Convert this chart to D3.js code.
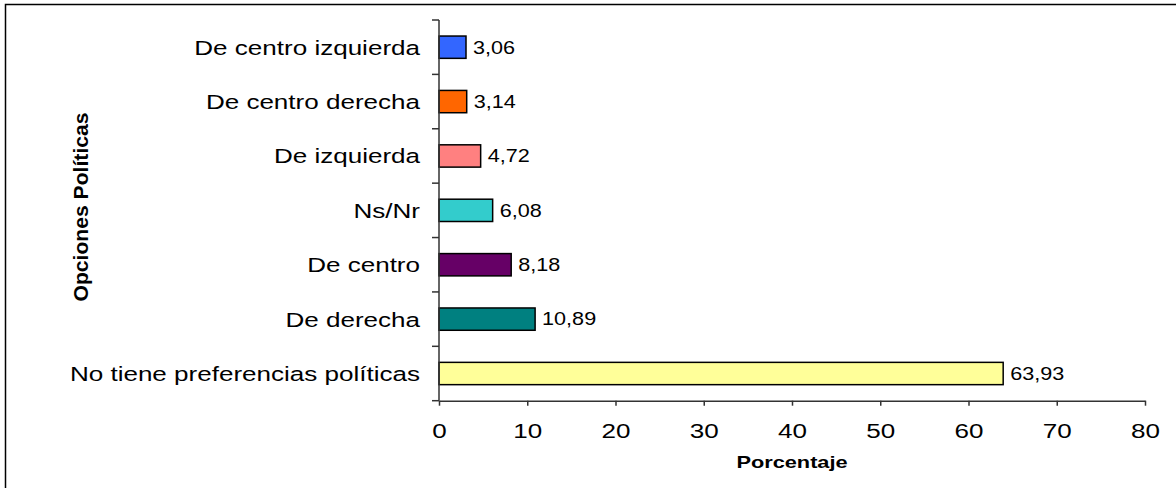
<!DOCTYPE html>
<html>
<head>
<meta charset="utf-8">
<script src="https://cdn.jsdelivr.net/npm/d3@7"></script>
<style>
  body { margin: 0; background: #fff; }
  text { font-family: "Liberation Sans", Arial, sans-serif; fill: #000; }
</style>
</head>
<body>
<div id="chart"></div>
<script>
// Categories, top to bottom as shown
const categories = [
  "De centro izquierda",
  "De centro derecha",
  "De izquierda",
  "Ns/Nr",
  "De centro",
  "De derecha",
  "No tiene preferencias políticas"
];
const values = [3.06, 3.14, 4.72, 6.08, 8.18, 10.89, 63.93];
const colors = ["#3366ff", "#ff6600", "#ff8080", "#33cccc", "#660066", "#008080", "#ffff99"];
const xTicks = [0, 10, 20, 30, 40, 50, 60, 70, 80];

const width = 1176;
const height = 488;
const margin = { top: 20, right: 31, bottom: 87.3, left: 439 };
const stretch = 1.27; // text in the picture is drawn wider than normal

const svg = d3.select("#chart")
  .append("svg")
  .attr("width", width)
  .attr("height", height);

// Frame (only top and left edges are visible)
svg.append("path")
  .attr("d", `M5.5,${height + 5}V4.5H${width + 5}`)
  .attr("fill", "none")
  .attr("stroke", "#000")
  .attr("stroke-width", 1.5);

const xScale = d3.scaleLinear()
  .domain([0, 80])
  .range([margin.left, width - margin.right]);

const yScale = d3.scaleBand()
  .domain(categories)
  .range([margin.top, height - margin.bottom])
  .paddingInner(0.59)
  .paddingOuter(0.295);

// Bars
svg.selectAll("rect.bar")
  .data(categories)
  .enter()
  .append("rect")
  .attr("class", "bar")
  .attr("x", xScale(0))
  .attr("y", (d) => yScale(d))
  .attr("width", (d, i) => xScale(values[i]) - xScale(0))
  .attr("height", yScale.bandwidth())
  .attr("fill", (d, i) => colors[i])
  .attr("stroke", "#000")
  .attr("stroke-width", 1.5);

// Value labels
svg.selectAll("text.value")
  .data(categories)
  .enter()
  .append("text")
  .attr("class", "value")
  .attr("transform", (d, i) =>
    `translate(${xScale(values[i]) + 7}, ${yScale(d) + yScale.bandwidth() / 2}) scale(1.2,1)`)
  .attr("dy", "0.35em")
  .style("font-size", "18px")
  .text((d, i) => values[i].toFixed(2).replace(".", ","));

// Category labels
svg.selectAll("text.cat")
  .data(categories)
  .enter()
  .append("text")
  .attr("class", "cat")
  .attr("transform", (d) =>
    `translate(420, ${yScale(d) + yScale.bandwidth() / 2}) scale(${stretch},1)`)
  .attr("dy", "0.36em")
  .attr("text-anchor", "end")
  .style("font-size", "20.5px")
  .text((d) => d);

// Y axis: line and ticks at band boundaries
const yTop = yScale.range()[0];
const step = yScale.step();
svg.append("line")
  .attr("x1", xScale(0)).attr("x2", xScale(0))
  .attr("y1", yTop).attr("y2", yScale.range()[1])
  .attr("stroke", "#333").attr("stroke-width", 1.5);

svg.selectAll("line.ytick")
  .data(d3.range(categories.length + 1))
  .enter()
  .append("line")
  .attr("class", "ytick")
  .attr("x1", xScale(0) - 7).attr("x2", xScale(0))
  .attr("y1", (i) => yTop + i * step)
  .attr("y2", (i) => yTop + i * step)
  .attr("stroke", "#333").attr("stroke-width", 1.5);

// X axis
const xAxis = svg.append("g")
  .attr("transform", `translate(0, ${height - margin.bottom})`)
  .call(d3.axisBottom(xScale).tickValues(xTicks).tickSize(5).tickSizeOuter(0).tickPadding(17.6));

xAxis.select(".domain").attr("stroke", "#333").attr("stroke-width", 1.5);
xAxis.selectAll(".tick line").attr("stroke", "#333").attr("stroke-width", 1.5);
xAxis.selectAll(".tick text")
  .attr("fill", "#000")
  .attr("transform", `scale(${stretch},1)`)
  .style("font-family", "'Liberation Sans', Arial, sans-serif")
  .style("font-size", "20.5px");

// Axis titles
svg.append("text")
  .attr("transform", `translate(${(xScale(0) + xScale(80)) / 2}, 468.3) scale(1.28,1)`)
  .attr("text-anchor", "middle")
  .style("font-size", "17px")
  .style("font-weight", "bold")
  .text("Porcentaje");

svg.append("text")
  .attr("transform", "translate(88, 207) rotate(-90)")
  .attr("text-anchor", "middle")
  .attr("textLength", 189)
  .attr("lengthAdjust", "spacingAndGlyphs")
  .style("font-size", "21px")
  .style("font-weight", "bold")
  .text("Opciones Políticas");
</script>
</body>
</html>
